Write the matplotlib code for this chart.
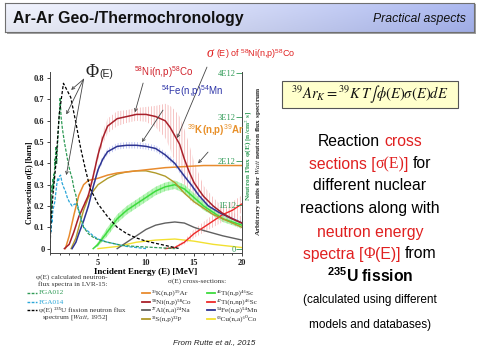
import numpy as np
import matplotlib
matplotlib.use('Agg')
import matplotlib.pyplot as plt
from matplotlib.lines import Line2D
from matplotlib.patches import Rectangle
from matplotlib.ticker import MultipleLocator

plt.rcParams['font.family'] = ['Liberation Sans', 'DejaVu Sans']
plt.rcParams['mathtext.fontset'] = 'custom'
plt.rcParams['mathtext.rm'] = 'Liberation Sans'
plt.rcParams['mathtext.it'] = 'Liberation Sans:italic'
plt.rcParams['mathtext.bf'] = 'Liberation Sans:bold'
plt.rcParams['hatch.linewidth'] = 0.5

SERIF = 'Liberation Serif'

# --- cross sections sigma(E) [barn] ---
e_k = [1.6, 2, 2.5, 3, 3.5, 4, 5, 6, 7, 8, 10, 12, 14, 16, 20]
s_k = [0, 0.06, 0.16, 0.25, 0.30, 0.32, 0.33, 0.345, 0.355, 0.36, 0.37, 0.38, 0.385, 0.39, 0.39]

e_ni = [1.5, 2, 2.5, 3, 3.5, 4, 4.5, 5, 5.5, 6, 7, 8, 9, 10, 11, 12, 12.5, 13,
        13.5, 14, 14.5, 15, 15.6, 16, 17, 18, 19, 20]
s_ni = [0, 0.02, 0.08, 0.15, 0.2, 0.25, 0.34, 0.44, 0.52, 0.575, 0.61, 0.62, 0.63,
        0.63, 0.62, 0.6, 0.57, 0.53, 0.49, 0.42, 0.36, 0.31, 0.27, 0.245, 0.2, 0.165, 0.14, 0.12]
u_ni = [0, 0.005, 0.01, 0.01, 0.01, 0.015, 0.02, 0.025, 0.03, 0.035, 0.035, 0.03, 0.03,
        0.035, 0.05, 0.08, 0.1, 0.12, 0.13, 0.14, 0.13, 0.1, 0.07, 0.05, 0.04, 0.03, 0.03, 0.03]

e_al = [7, 8, 9, 10, 11, 12, 13, 14, 15, 16, 18, 20]
s_al = [0, 0.03, 0.06, 0.09, 0.11, 0.12, 0.125, 0.12, 0.1, 0.085, 0.06, 0.04]

e_s = [2.2, 2.7, 3, 3.5, 4, 5, 6, 7, 8, 9, 10, 11, 12, 13, 14, 15, 16, 17, 18, 20]
s_s = [0, 0.05, 0.1, 0.18, 0.24, 0.3, 0.33, 0.35, 0.36, 0.365, 0.365, 0.355, 0.34,
       0.31, 0.26, 0.22, 0.19, 0.16, 0.14, 0.1]

e_ti46 = [4.5, 5, 5.5, 6, 6.5, 7, 8, 9, 10, 11, 12, 13, 14, 15, 16, 17, 18, 20]
s_ti46 = [0, 0.02, 0.05, 0.08, 0.11, 0.14, 0.18, 0.21, 0.24, 0.27, 0.29, 0.3, 0.28,
          0.24, 0.2, 0.17, 0.14, 0.11]
u_ti46 = [0, 0.01, 0.015, 0.02, 0.02, 0.02, 0.02, 0.02, 0.02, 0.02, 0.02, 0.02, 0.02,
          0.02, 0.02, 0.015, 0.015, 0.015]

e_ti47 = [12, 13, 14, 15, 16, 17, 18, 19, 20]
s_ti47 = [0, 0.005, 0.03, 0.07, 0.1, 0.13, 0.16, 0.18, 0.21]
u_ti47 = [0, 0.005, 0.01, 0.02, 0.025, 0.03, 0.035, 0.04, 0.04]

e_fe = [2.3, 2.7, 3, 3.5, 4, 4.5, 5, 5.5, 6, 7, 8, 9, 10, 11, 12, 13, 14, 14.7,
        15.5, 16.5, 17.6, 18.5, 20]
s_fe = [0, 0.03, 0.07, 0.13, 0.2, 0.29, 0.37, 0.42, 0.455, 0.48, 0.485, 0.485, 0.48,
        0.47, 0.44, 0.4, 0.34, 0.3, 0.25, 0.2, 0.17, 0.15, 0.12]
u_fe = [0, 0.005, 0.01, 0.01, 0.01, 0.012, 0.015, 0.015, 0.015, 0.015, 0.015, 0.015,
        0.015, 0.015, 0.015, 0.015, 0.015, 0.015, 0.012, 0.01, 0.01, 0.01, 0.01]

e_cu = [5, 7, 9, 11, 13, 15, 17, 20]
s_cu = [0, 0.01, 0.03, 0.04, 0.045, 0.035, 0.02, 0.005]

# --- neutron flux spectra (left-axis scale) ---
e_fga012 = [0.02, 0.05, 0.08, 0.1, 0.13, 0.16, 0.2, 0.25, 0.3, 0.35, 0.4, 0.45, 0.5,
            0.55, 0.6, 0.7, 0.8, 0.9, 1.0, 1.06, 1.15, 1.3, 1.5, 1.7, 1.9, 2.1, 2.3,
            2.5, 2.7, 2.9, 3.2, 3.5, 4, 4.6, 5.5, 6.5, 7.5, 9, 11, 13]
f_fga012 = [0.05, 0.12, 0.2, 0.15, 0.25, 0.2, 0.3, 0.27, 0.33, 0.28, 0.35, 0.32, 0.42,
            0.38, 0.48, 0.4, 0.5, 0.58, 0.65, 0.71, 0.62, 0.56, 0.5, 0.45, 0.4, 0.36,
            0.33, 0.28, 0.25, 0.19, 0.15, 0.1, 0.07, 0.05, 0.035, 0.025, 0.015, 0.01,
            0.005, 0.0]

e_fga014 = [0.02, 0.05, 0.1, 0.15, 0.2, 0.3, 0.4, 0.5, 0.6, 0.7, 0.8, 0.9, 1.0, 1.1,
            1.25, 1.4, 1.6, 1.8, 2.0, 2.3, 2.6, 2.9, 3.2, 3.5, 4, 4.5, 5, 6, 7, 8, 10]
f_fga014 = [0.05, 0.1, 0.08, 0.14, 0.12, 0.18, 0.2, 0.22, 0.26, 0.3, 0.33, 0.32, 0.34,
            0.345, 0.31, 0.29, 0.27, 0.24, 0.22, 0.2, 0.21, 0.2, 0.14, 0.1, 0.08, 0.06,
            0.045, 0.03, 0.02, 0.01, 0.0]

e_watt = [0.0, 0.1, 0.3, 0.6, 0.96, 1.4, 2.16, 2.7, 3.2, 3.7, 4.2, 5.0, 6.0, 7.0, 8.0,
          9.0, 10, 11, 12, 13.5]
f_watt = [0.0, 0.12, 0.25, 0.39, 0.63, 0.776, 0.71, 0.59, 0.47, 0.37, 0.28, 0.21, 0.15,
          0.1, 0.07, 0.05, 0.035, 0.025, 0.015, 0.0]

left_ticks = [0, 0.1, 0.2, 0.3, 0.4, 0.5, 0.6, 0.7, 0.8]
left_labels = ['0', '0.1', '0.2', '0.3', '0.4', '0.5', '0.6', '0.7', '0.8']
flux_ticks = [0, 1e12, 2e12, 3e12, 4e12]
flux_labels = ['0', '1E12', '2E12', '3E12', '4E12']

C_K, C_NI, C_AL, C_S = '#E88B2E', '#A8202A', '#606060', '#B09A2A'
C_TI46, C_TI47, C_FE, C_CU = '#3EDB3E', '#EE2A2A', '#2E3592', '#F2E030'
C_F12, C_F14 = '#2E9A55', '#2AA6D8'
C_RED = '#E02020'

W, H = 479, 359
fig = plt.figure(figsize=(W / 100, H / 100), dpi=100)


def fx(x):
    return x / W


def fy(y):
    return 1 - y / H


SUP = str.maketrans('0123456789', '⁰¹²³⁴⁵⁶⁷⁸⁹')


def sup(s):
    return s.translate(SUP)


# title bar
shadow = Rectangle((fx(7), fy(34)), 469 / W, 30 / H, transform=fig.transFigure,
                   facecolor='#a0a0a0', edgecolor='none', zorder=-1)
fig.patches.append(shadow)
bar = fig.add_axes([fx(5), fy(32), 469 / W, 29 / H], zorder=1)
gx = np.linspace(0, 1, 200)
gy = np.linspace(0, 1, 20)
c0 = np.array([0.92, 0.93, 0.97])
c1 = np.array([0.65, 0.70, 0.92])
grad = c0[None, None, :] + (c1 - c0)[None, None, :] * (gx ** 1.3)[None, :, None]
grad = grad + 0.05 * (gy - 0.5)[:, None, None]
bar.imshow(np.clip(grad, 0, 1), aspect='auto', extent=[0, 1, 0, 1], origin='lower')
bar.set_xlim(0, 1)
bar.set_ylim(0, 1)
bar.set_xticks([])
bar.set_yticks([])
for sp in bar.spines.values():
    sp.set_color('#707070')
    sp.set_linewidth(0.8)
bar.text(0.018, 0.48, 'Ar-Ar Geo-/Thermochronology', fontsize=11.4, fontweight='bold',
         va='center', ha='left', color='#111111', transform=bar.transAxes)
bar.text(0.983, 0.45, 'Practical aspects', fontsize=8.8, style='italic',
         va='center', ha='right', color='#111111', transform=bar.transAxes)

# chart
ax = fig.add_axes([fx(50), fy(253.3), fx(242) - fx(50), fy(72) - fy(253.3)])
ax.set_xlim(0, 20)
ax.set_ylim(-0.022, 0.829)

ax.fill_between(e_ni, np.array(s_ni) - u_ni, np.array(s_ni) + u_ni, facecolor='none',
                edgecolor='#F2AAAA', hatch='||||||', linewidth=0)
ax.fill_between(e_fe, np.array(s_fe) - u_fe, np.array(s_fe) + u_fe, facecolor='none',
                edgecolor='#A8B0F0', hatch='||||||', linewidth=0)
ax.fill_between(e_ti46, np.array(s_ti46) - u_ti46, np.array(s_ti46) + u_ti46,
                facecolor='#B8F5B8', edgecolor='#7FE87F', hatch='||||', linewidth=0)
ax.fill_between(e_ti47, np.array(s_ti47) - u_ti47, np.array(s_ti47) + u_ti47,
                facecolor='none', edgecolor='#F4AAAA', hatch='||||||', linewidth=0)

ax.plot(e_cu, s_cu, color=C_CU, lw=1.0)
ax.plot(e_al, s_al, color=C_AL, lw=1.0)
ax.plot(e_ti46, s_ti46, color=C_TI46, lw=1.1)
ax.plot(e_ti47, s_ti47, color=C_TI47, lw=1.0)
ax.plot(e_s, s_s, color=C_S, lw=1.0)
ax.plot(e_k, s_k, color=C_K, lw=1.1)
ax.plot(e_fe, s_fe, color=C_FE, lw=1.1)
ax.plot(e_ni, s_ni, color=C_NI, lw=1.1)

ax.plot(e_fga014, f_fga014, color=C_F14, lw=0.9, ls=(0, (2.5, 1.2)))
ax.plot(e_fga012, f_fga012, color=C_F12, lw=0.9, ls=(0, (2.5, 1.2)))
ax.plot(e_watt, f_watt, color='black', lw=0.9, ls=(0, (2.5, 1.5)))

ax.set_xticks([5, 10, 15, 20])
ax.xaxis.set_minor_locator(MultipleLocator(1))
ax.set_yticks(left_ticks)
ax.set_yticklabels(left_labels)
ax.tick_params(labelsize=6, length=2.5, width=0.6, pad=1.5, colors='#222222')
ax.tick_params(which='minor', length=1.5, width=0.5)
for lbl in ax.get_xticklabels() + ax.get_yticklabels():
    lbl.set_fontfamily(SERIF)
    lbl.set_fontweight('bold')
ax.spines['top'].set_visible(False)
ax.spines['right'].set_visible(False)
for sp in ['left', 'bottom']:
    ax.spines[sp].set_color('#444444')
    ax.spines[sp].set_linewidth(0.7)
ax.set_xlabel('Incident Energy (E) [MeV]', fontfamily=SERIF, fontweight='bold',
              fontsize=6.5, labelpad=1)
ax.set_ylabel('Cross-section σ(E) [barn]', fontfamily=SERIF, fontweight='bold',
              fontsize=5.5)
ax.yaxis.set_label_coords(-0.088, 0.39)

ax2 = ax.twinx()
ax2.set_ylim(-0.098e12, 4.032e12)
ax2.set_yticks(flux_ticks)
ax2.set_yticklabels(flux_labels)
ax2.tick_params(axis='y', direction='in', length=4, width=0.6, pad=-4.5, labelsize=6,
                labelcolor='#2E9A55', color='#2E9A55')
plt.setp(ax2.get_yticklabels(), ha='right', fontfamily=SERIF)
for sp in ['top', 'left', 'bottom']:
    ax2.spines[sp].set_visible(False)
ax2.spines['right'].set_color('#444444')
ax2.spines['right'].set_linewidth(0.7)
ax2.text(1.036, 0.535, 'Neutron Flux φ(E) [n/cm$^{2}$ s]', transform=ax2.transAxes,
         rotation=90, ha='center', va='center', fontsize=5.3, fontweight='bold',
         fontfamily=SERIF, color='#2E9A55', math_fontfamily='stix')
ax2.text(1.085, 0.51, 'Arbitrary units for $\\mathit{Watt}$ neutron flux spectrum',
         transform=ax2.transAxes, rotation=90, ha='center', va='center', fontsize=5.3,
         fontweight='bold', fontfamily=SERIF, color='#222222', math_fontfamily='stix')

# annotations inside chart
arrow = dict(arrowstyle='->', color='#444444', lw=0.6, shrinkA=0, shrinkB=0,
             mutation_scale=5)
for tgt in [(2.2, 0.745), (1.7, 0.63), (1.7, 0.345)]:
    ax.annotate('', xy=tgt, xytext=(3.5, 0.795), arrowprops=arrow,
                annotation_clip=False)
fig.text(fx(86), fy(77), 'Φ', fontsize=13, fontfamily=SERIF, color='#222222')
fig.text(fx(99), fy(77), '(E)', fontsize=7.5, color='#222222')

ax.annotate('', xy=(8.85, 0.64), xytext=(9.7, 0.777), arrowprops=arrow,
            annotation_clip=False)
ax.annotate('', xy=(9.58, 0.50), xytext=(11.77, 0.65), arrowprops=arrow,
            annotation_clip=False)
ax.annotate('', xy=(15.42, 0.40), xytext=(16.46, 0.453), arrowprops=arrow,
            annotation_clip=False)
ax.annotate('', xy=(13.23, 0.519), xytext=(16.35, 0.852), arrowprops=arrow,
            annotation_clip=False)
fig.text(fx(164), fy(76), '$^{58}$Ni(n,p)$^{58}$Co', fontsize=7, color='#D0202A',
         ha='center', va='baseline')
fig.text(fx(192), fy(95), '$^{54}$Fe(n,p)$^{54}$Mn', fontsize=7, color='#2E35A8',
         ha='center', va='baseline')
fig.text(fx(215), fy(134), '$^{39}$K(n,p)$^{39}$Ar', fontsize=7, color='#E8902A',
         ha='center', va='baseline', fontweight='bold')
fig.text(fx(207), fy(57), 'σ', fontsize=10, fontfamily=SERIF, style='italic',
         color=C_RED, ha='left', va='baseline')
fig.text(fx(216), fy(57), '(E) of $^{58}$Ni(n,p)$^{58}$Co', fontsize=6.5, color=C_RED,
         ha='left', va='baseline')

# legend under the chart
LEG = dict(fontsize=5.2, fontfamily=[SERIF, 'DejaVu Serif'], va='center',
           math_fontfamily='stix')
fig.text(fx(72), fy(277), 'φ(E) calculated neutron-', ha='center', color='#333333', **LEG)
fig.text(fx(73), fy(284.5), 'flux spectra in LVR-15:', ha='center', color='#333333', **LEG)
flux_rows = [(293, C_F12, 'FGA012', C_F12),
             (302, C_F14, 'FGA014', C_F14),
             (310, 'black', 'φ(E) ' + sup('235') + 'U fission neutron flux', '#333333')]
for y, lc, txt, tc in flux_rows:
    fig.add_artist(Line2D([fx(27), fx(37)], [fy(y), fy(y)], color=lc, lw=1.0,
                          ls=(0, (2, 1))))
    fig.text(fx(39), fy(y), txt, ha='left', color=tc, **LEG)
fig.text(fx(42), fy(318), 'spectrum [$\\mathit{Watt}$, 1952]', ha='left',
         color='#333333', **LEG)

fig.text(fx(197), fy(281), 'σ(E) cross-sections:', ha='center', color='#333333', **LEG)
xs_rows = [
    (142, 293, C_K, sup('39') + 'K(n,p)' + sup('39') + 'Ar'),
    (142, 301.5, C_NI, sup('58') + 'Ni(n,p)' + sup('58') + 'Co'),
    (142, 310, C_AL, sup('27') + 'Al(n,a)' + sup('24') + 'Na'),
    (142, 318.5, C_S, sup('32') + 'S(n,p)' + sup('32') + 'P'),
    (207, 293, C_TI46, sup('46') + 'Ti(n,p)' + sup('46') + 'Sc'),
    (207, 301.5, C_TI47, sup('47') + 'Ti(n,np)' + sup('46') + 'Sc'),
    (207, 310, C_FE, sup('54') + 'Fe(n,p)' + sup('54') + 'Mn'),
    (207, 318.5, C_CU, sup('63') + 'Cu(n,a)' + sup('60') + 'Co'),
]
for x, y, c, txt in xs_rows:
    fig.add_artist(Line2D([fx(x), fx(x + 8)], [fy(y), fy(y)], color=c, lw=1.3))
    fig.text(fx(x + 10), fy(y), txt, ha='left', color='#333333', **LEG)

fig.text(fx(214), fy(343), 'From Rutte et al., 2015', fontsize=5.8, style='italic',
         ha='center', va='center', color='#222222')

# equation box
box = Rectangle((fx(282), fy(108)), 176 / W, 27 / H, transform=fig.transFigure,
                facecolor='#FFFFCC', edgecolor='#555555', lw=0.8)
fig.patches.append(box)
fig.text(fx(370), fy(94.5), r'$^{39}Ar_K={}^{39}K\,T\int\phi(E)\sigma(E)dE$', fontsize=10.5,
         ha='center', va='center', math_fontfamily='stix', color='#111111')

# text block on the right
BIG = 11.3
lines = [
    (145.5, BIG, [('Reaction', 'black', {}), (' cross', C_RED, {})]),
    (168.5, BIG, [('sections [', C_RED, {}), ('σ(E)', C_RED, {'fontfamily': SERIF}),
                  (']', C_RED, {}), (' for', 'black', {})]),
    (190.5, BIG, [('different nuclear', 'black', {})]),
    (213.5, BIG, [('reactions along with', 'black', {})]),
    (236.5, BIG, [('neutron energy', C_RED, {})]),
    (258.5, BIG, [('spectra [', C_RED, {}), ('Φ', C_RED, {'fontfamily': SERIF}),
                  ('(E)]', C_RED, {}), (' from', 'black', {})]),
    (281.5, BIG, [(r'$^{\mathbf{235}}$U fission', 'black', {'fontweight': 'bold'})]),
    (303.5, 8.5, [('(calculated using different', 'black', {})]),
    (328, 8.5, [('models and databases)', 'black', {})]),
]
renderer = fig.canvas.get_renderer()
for y, size, parts in lines:
    arts, gaps = [], []
    for s, c, kw in parts:
        gap = 0.0
        if s.startswith(' '):
            s = s[1:]
            gap = 0.278 * size * 100 / 72
        t = fig.text(0, fy(y), s, color=c, fontsize=size, ha='left', va='baseline', **kw)
        arts.append(t)
        gaps.append(gap)
    widths = [t.get_window_extent(renderer).width for t in arts]
    x = 370 - (sum(widths) + sum(gaps)) / 2
    for t, w, g in zip(arts, widths, gaps):
        x += g
        t.set_x(fx(x))
        x += w

fig.savefig('out.png', dpi=100)
